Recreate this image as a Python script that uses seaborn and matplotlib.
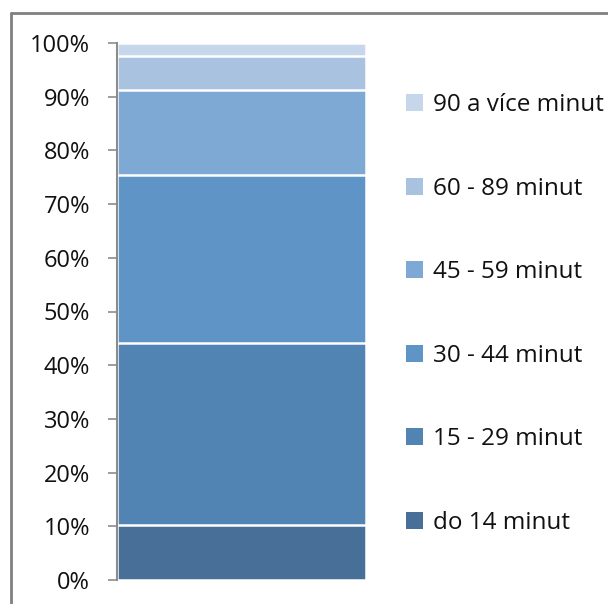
import matplotlib
matplotlib.use("Agg")
import matplotlib.pyplot as plt
import seaborn as sns
import pandas as pd
import numpy as np
from matplotlib.patches import Patch
from matplotlib.lines import Line2D
from matplotlib.ticker import PercentFormatter

categories = ["do 14 minut", "15 - 29 minut", "30 - 44 minut", "45 - 59 minut",
              "60 - 89 minut", "90 a více minut"]
values = [10.2, 33.9, 31.4, 15.8, 6.2, 2.5]
colors = ["#476F97", "#5284B3", "#5F95C6", "#7EA9D4", "#A8C2E0", "#C6D6EB"]
yticks = list(range(0, 101, 10))

sns.set_theme(style="white")
plt.rcParams["font.family"] = ["Open Sans", "DejaVu Sans"]

fig = plt.figure(figsize=(6.08, 6.04), dpi=100)
fig.patch.set_facecolor("white")
ax = fig.add_axes([117/608, 1-580/604, 249/608, (580-43)/604])

cum = np.cumsum(values)
df = pd.DataFrame({"grp": [""] * len(values), "cum": cum, "cat": categories})
# draw cumulative totals from the top segment down so lower segments overlay
for i in range(len(values) - 1, -1, -1):
    sns.barplot(data=df.iloc[[i]], x="grp", y="cum", color=colors[i],
                width=1.0, edgecolor="white", linewidth=1.8, ax=ax,
                saturation=1)

ax.set_xlim(-0.5, 0.5)
ax.set_ylim(0, 100)
ax.set_yticks(yticks)
ax.yaxis.set_major_formatter(PercentFormatter(decimals=0))
ax.set_xticks([])
ax.set_xlabel("")
ax.set_ylabel("")
for s in ["top", "right", "bottom"]:
    ax.spines[s].set_visible(False)
ax.spines["left"].set_color("#8C8C8C")
ax.spines["left"].set_linewidth(1.5)
ax.tick_params(axis="y", left=True, length=6.5, width=1.2, color="#8C8C8C",
               pad=13, labelsize=17, labelcolor="#111111")

handles = [Patch(facecolor=colors[i], edgecolor="none", label=categories[i])
           for i in range(len(values) - 1, -1, -1)]
fig.legend(handles=handles, loc="upper left",
           bbox_to_anchor=(406/608, 1-93/604), frameon=False,
           fontsize=17.5, handlelength=0.7, handleheight=0.7,
           handletextpad=0.4, labelspacing=2.45, borderaxespad=0,
           borderpad=0, labelcolor="#111111")

fig.add_artist(Line2D([11/608, 11/608], [0, 1-13/604], color="#808080",
                      linewidth=2, transform=fig.transFigure))
fig.add_artist(Line2D([11/608, 1], [1-13/604, 1-13/604], color="#808080",
                      linewidth=2, transform=fig.transFigure))

fig.savefig("out.png", dpi=100)
